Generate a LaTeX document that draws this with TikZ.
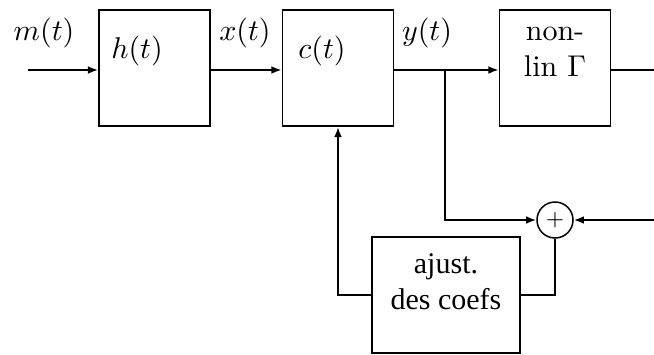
\documentclass[tikz,border=0pt]{standalone}
\usepackage[no-math]{fontspec}
\newfontfamily\timesfont{Liberation Serif}
\usetikzlibrary{arrows.meta}
\begin{document}
\begin{tikzpicture}[x=0.3333pt,y=-0.3333pt,
  line width=0.6pt,
  block/.style={draw,rectangle,minimum width=37pt,minimum height=38.7pt,inner sep=0pt},
  arr/.style={-{Latex[length=3.4pt,width=2.6pt]}},
  lbl/.style={inner sep=0pt}]
  \useasboundingbox (0,0) rectangle (654,354);

  % processing blocks
  \node[block] (h)  at (154.5,68) {};
  \node[block] (c)  at (338,68) {};
  \node[block] (nl) at (555,68) {};
  \node[block,minimum width=49.3pt] (aj) at (446,295) {};
  \node[draw,circle,minimum size=12pt,inner sep=0pt,line width=0.5pt] (sum) at (555,220) {\scriptsize$+$};

  % texts
  \node[lbl] (lm) at (44,33)  {$m(t)$};
  \node[lbl] (lx) at (245,33) {$x(t)$};
  \node[lbl] (ly) at (427,33) {$y(t)$};
  \node[lbl] (th) at (137,51) {$h(t)$};
  \node[lbl] (tc) at (322,51) {$c(t)$};
  \node[lbl,align=center] (tn) at (555,52) {non-\\lin $\Gamma$};
  \node[lbl,align=center,font=\timesfont] (ta) at (446,282) {ajust.\\des coefs};

  % free ends of the signal lines
  \coordinate (in)  at (28,70);
  \coordinate (out) at (654,70);
  \coordinate (br)  at (445,70);
  \coordinate (fb)  at (654,220);

  % forward path
  \draw[arr] (in) -- (in -| h.west);
  \draw[arr] (h.east |- in) -- (c.west |- in);
  \draw[arr] (c.east |- in) -- (nl.west |- in);
  \draw (nl.east |- in) -- (out);

  % error path and coefficient update
  \draw[arr] (br) |- (sum.west);
  \draw[arr] (fb) -- (sum.east);
  \draw (sum.south) |- (aj.east);
  \draw[arr] (aj.west) -| (c.south);
\end{tikzpicture}
\end{document}
